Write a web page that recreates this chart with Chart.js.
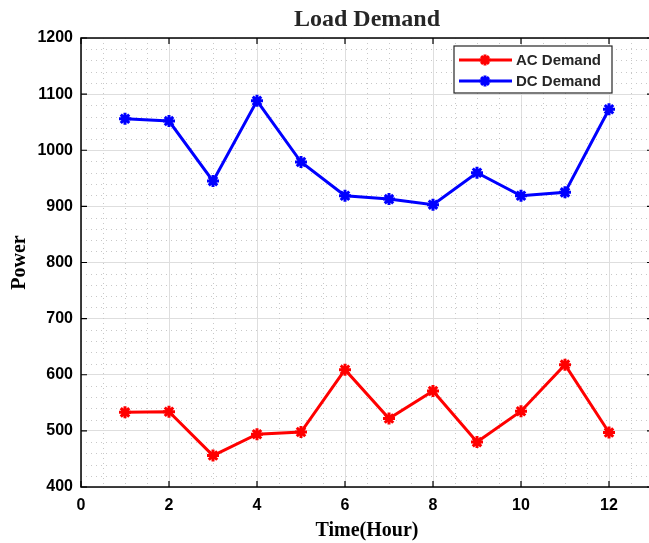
<!DOCTYPE html>
<html lang="en">
<head>
    <meta charset="UTF-8">
    <title>Load Demand</title>
    <script src="https://cdn.jsdelivr.net/npm/chart.js"></script>
    <style>
        html, body {
            margin: 0;
            padding: 0;
            background: #ffffff;
            overflow: hidden;
        }
        #wrap {
            width: 662px;
            height: 543px;
        }
    </style>
</head>
<body>
    <div id="wrap">
        <canvas id="loadChart" width="662" height="543"></canvas>
    </div>

    <script>
        // data
        const hours = [1, 2, 3, 4, 5, 6, 7, 8, 9, 10, 11, 12];
        const acDemand = [533, 534, 456, 494, 498, 609, 522, 571, 480, 535, 618, 497];
        const dcDemand = [1056, 1052, 945, 1088, 979, 919, 913, 903, 960, 919, 925, 1073];
        const xTicks = [0, 2, 4, 6, 8, 10, 12];
        const yTicks = [400, 500, 600, 700, 800, 900, 1000, 1100, 1200];

        const serif = '"Liberation Serif", "Times New Roman", serif';
        const sans = '"Liberation Sans", Arial, sans-serif';

        // dotted minor grid, inner tick marks, axes box, title and legend
        const matlabLook = {
            id: 'matlabLook',
            beforeDatasetsDraw(chart) {
                const { ctx, chartArea: a, scales: { x, y } } = chart;
                ctx.save();
                ctx.strokeStyle = '#c8c8c8';
                ctx.lineWidth = 1;
                ctx.setLineDash([1, 4]);
                for (let v = 0.5; v < 13; v += 0.5) {
                    if (v % 2 === 0) continue;
                    const px = Math.round(x.getPixelForValue(v)) + 0.5;
                    ctx.beginPath();
                    ctx.moveTo(px, a.top);
                    ctx.lineTo(px, a.bottom);
                    ctx.stroke();
                }
                for (let v = 420; v < 1200; v += 20) {
                    if (v % 100 === 0) continue;
                    const py = Math.round(y.getPixelForValue(v)) + 0.5;
                    ctx.beginPath();
                    ctx.moveTo(a.left, py);
                    ctx.lineTo(a.right, py);
                    ctx.stroke();
                }
                ctx.restore();
            },
            afterDatasetsDraw(chart) {
                const { ctx, chartArea: a, scales: { x, y } } = chart;
                ctx.save();
                ctx.strokeStyle = '#000000';
                ctx.lineWidth = 1.5;
                ctx.strokeRect(a.left, a.top, a.right - a.left, a.bottom - a.top);

                ctx.lineWidth = 1.2;
                ctx.beginPath();
                xTicks.forEach(v => {
                    const px = x.getPixelForValue(v);
                    ctx.moveTo(px, a.bottom); ctx.lineTo(px, a.bottom - 6);
                    ctx.moveTo(px, a.top); ctx.lineTo(px, a.top + 6);
                });
                yTicks.forEach(v => {
                    const py = y.getPixelForValue(v);
                    ctx.moveTo(a.left, py); ctx.lineTo(a.left + 6, py);
                    ctx.moveTo(a.right, py); ctx.lineTo(a.right - 6, py);
                });
                ctx.stroke();

                // title
                ctx.fillStyle = '#262626';
                ctx.font = 'bold 24px ' + serif;
                ctx.textAlign = 'center';
                ctx.textBaseline = 'middle';
                ctx.fillText('Load Demand', (a.left + a.right) / 2, 20);

                // legend
                const box = { left: 454, top: 46, w: 158, h: 47 };
                ctx.fillStyle = '#ffffff';
                ctx.fillRect(box.left, box.top, box.w, box.h);
                ctx.strokeStyle = '#262626';
                ctx.lineWidth = 1.2;
                ctx.strokeRect(box.left, box.top, box.w, box.h);
                chart.data.datasets.forEach((ds, i) => {
                    const ly = box.top + 14 + i * 21;
                    ctx.strokeStyle = ds.borderColor;
                    ctx.lineWidth = 3;
                    ctx.beginPath();
                    ctx.moveTo(459, ly);
                    ctx.lineTo(512, ly);
                    ctx.stroke();
                    Chart.helpers.drawPoint(ctx, {
                        pointStyle: 'star', radius: 5.5, borderWidth: 3, rotation: 0
                    }, 485, ly);
                    ctx.fillStyle = '#262626';
                    ctx.font = 'bold 15px ' + sans;
                    ctx.textAlign = 'left';
                    ctx.textBaseline = 'middle';
                    ctx.fillText(ds.label, 516, ly + 1);
                });
                ctx.restore();
            }
        };

        const ctx = document.getElementById('loadChart').getContext('2d');
        const chart = new Chart(ctx, {
            type: 'line',
            data: {
                datasets: [
                    {
                        label: 'AC Demand',
                        data: hours.map((h, i) => ({ x: h, y: acDemand[i] })),
                        borderColor: '#ff0000',
                        backgroundColor: '#ff0000',
                        borderWidth: 3,
                        pointStyle: 'star',
                        pointRadius: 6,
                        pointBorderWidth: 3,
                        tension: 0
                    },
                    {
                        label: 'DC Demand',
                        data: hours.map((h, i) => ({ x: h, y: dcDemand[i] })),
                        borderColor: '#0000ff',
                        backgroundColor: '#0000ff',
                        borderWidth: 3,
                        pointStyle: 'star',
                        pointRadius: 6,
                        pointBorderWidth: 3,
                        tension: 0
                    }
                ]
            },
            options: {
                responsive: false,
                animation: false,
                layout: { padding: { top: 38, right: 2, left: 0, bottom: 0 } },
                plugins: {
                    legend: { display: false },
                    title: { display: false },
                    tooltip: { enabled: false }
                },
                scales: {
                    x: {
                        type: 'linear',
                        min: 0,
                        max: 13,
                        afterFit: s => { s.height = 56; },
                        afterBuildTicks: s => { s.ticks = xTicks.map(v => ({ value: v })); },
                        grid: { color: '#dedede', lineWidth: 1, drawTicks: false },
                        border: { display: false },
                        ticks: {
                            padding: 9,
                            color: '#000000',
                            callback: v => String(v),
                            font: { family: sans, size: 16, weight: 'bold' }
                        },
                        title: {
                            display: true,
                            text: 'Time(Hour)',
                            color: '#000000',
                            padding: 0,
                            font: { family: serif, size: 20, weight: 'bold' }
                        }
                    },
                    y: {
                        min: 400,
                        max: 1200,
                        afterFit: s => { s.width = 81; },
                        afterBuildTicks: s => { s.ticks = yTicks.map(v => ({ value: v })); },
                        grid: { color: '#dedede', lineWidth: 1, drawTicks: false },
                        border: { display: false },
                        ticks: {
                            padding: 8,
                            color: '#000000',
                            callback: v => String(v),
                            font: { family: sans, size: 16, weight: 'bold' }
                        },
                        title: {
                            display: true,
                            text: 'Power',
                            color: '#000000',
                            padding: 8,
                            font: { family: serif, size: 20, weight: 'bold' }
                        }
                    }
                }
            },
            plugins: [matlabLook]
        });
    </script>
</body>
</html>
